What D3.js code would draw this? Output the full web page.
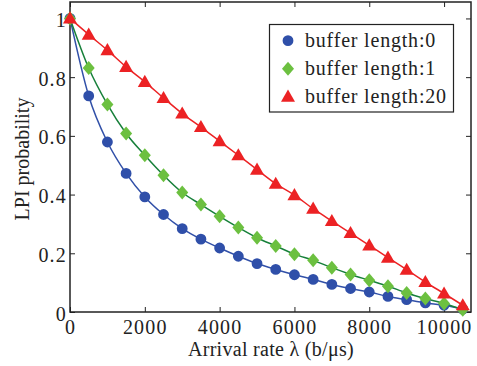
<!DOCTYPE html>
<html>
<head>
<meta charset="utf-8">
<script src="https://cdn.jsdelivr.net/npm/d3@7"></script>
<style>
  body { margin: 0; background: #fff; }
</style>
</head>
<body>
<div id="chart"></div>
<script>
// arrival rate (b/us), every 500
const rates = [0, 500, 1000, 1500, 2000, 2500, 3000, 3500, 4000, 4500, 5000,
  5500, 6000, 6500, 7000, 7500, 8000, 8500, 9000, 9500, 10000, 10500];

const buf0 = [1, 0.736, 0.579, 0.472, 0.392, 0.332, 0.284, 0.248, 0.218, 0.190, 0.165,
  0.145, 0.127, 0.111, 0.094, 0.080, 0.068, 0.053, 0.042, 0.031, 0.023, 0.010];
const buf1 = [1, 0.831, 0.707, 0.608, 0.534, 0.466, 0.407, 0.366, 0.326, 0.288, 0.253,
  0.225, 0.197, 0.176, 0.151, 0.128, 0.108, 0.088, 0.065, 0.046, 0.029, 0.008];
const buf20 = [1, 0.945, 0.892, 0.835, 0.784, 0.729, 0.676, 0.630, 0.582, 0.534, 0.485,
  0.437, 0.398, 0.352, 0.310, 0.269, 0.227, 0.185, 0.144, 0.102, 0.063, 0.023];

const xTicks = [0, 2000, 4000, 6000, 8000, 10000];
const yTicks = [0, 0.2, 0.4, 0.6, 0.8, 1];

const series = [
  { name: "buffer length:0", values: buf0, line: "#3150a8", fill: "#2f4fa9", shape: "circle" },
  { name: "buffer length:1", values: buf1, line: "#17803a", fill: "#6cc040", shape: "diamond" },
  { name: "buffer length:20", values: buf20, line: "#ec2224", fill: "#ec2224", shape: "triangle" }
];

const FONT = "'Liberation Serif', 'Times New Roman', serif";
const width = 477, height = 366;
const margin = { top: 2, right: 6, bottom: 54, left: 70 };

const x = d3.scaleLinear()
  .domain([0, 10720])
  .range([margin.left, width - margin.right]);
const y = d3.scaleLinear()
  .domain([0, 1.056])
  .range([height - margin.bottom, margin.top]);

const svg = d3.select("#chart").append("svg")
  .attr("width", width)
  .attr("height", height);

// frame ticks: inside, on all four sides
svg.append("g")
  .attr("transform", `translate(0,${y(0)})`)
  .call(d3.axisBottom(x).tickValues(xTicks).tickSize(-5).tickPadding(8).tickFormat(d3.format("d")))
  .call(g => g.select(".domain").remove());
svg.append("g")
  .attr("transform", `translate(0,${y(1.056)})`)
  .call(d3.axisTop(x).tickValues(xTicks).tickSize(-5).tickFormat(""))
  .call(g => g.select(".domain").remove());
svg.append("g")
  .attr("transform", `translate(${x(0)},0)`)
  .call(d3.axisLeft(y).tickValues(yTicks).tickSize(-5).tickPadding(3).tickFormat(d => d))
  .call(g => g.select(".domain").remove())
  .call(g => g.selectAll("text").attr("dy", "0.4em"));
svg.append("g")
  .attr("transform", `translate(${x(10720)},0)`)
  .call(d3.axisRight(y).tickValues(yTicks).tickSize(-5).tickFormat(""))
  .call(g => g.select(".domain").remove());

svg.selectAll(".tick line").attr("stroke", "#222");
svg.selectAll(".tick text")
  .attr("font-size", 20)
  .attr("letter-spacing", 1.2)
  .style("font-family", FONT)
  .attr("fill", "#222");

svg.append("rect")
  .attr("x", x(0)).attr("y", y(1.056))
  .attr("width", x(10720) - x(0)).attr("height", y(0) - y(1.056))
  .attr("fill", "none").attr("stroke", "#222").attr("stroke-width", 1.5);

const line = d3.line()
  .x((d, i) => x(rates[i]))
  .y(d => y(d))
  .curve(d3.curveMonotoneX);

const symbols = {
  circle: d3.symbol().type(d3.symbolCircle).size(92),
  diamond: d => "M0,-7L6,0L0,7L-6,0Z",
  triangle: d3.symbol().type(d3.symbolTriangle).size(85)
};
const offset = s => (s.shape === "triangle" ? 1 : 0);

const plot = svg.append("g");
series.forEach(s => {
  plot.append("path")
    .attr("d", line(s.values))
    .attr("fill", "none")
    .attr("stroke", s.line)
    .attr("stroke-width", 1.5);
});
series.forEach(s => {
  plot.append("g")
    .selectAll("path")
    .data(s.values)
    .join("path")
    .attr("transform", (d, i) => `translate(${x(rates[i])},${y(d) + offset(s)})`)
    .attr("d", symbols[s.shape])
    .attr("fill", s.fill);
});

// legend
const lg = svg.append("g");
lg.append("rect")
  .attr("x", 269.5).attr("y", 24.5)
  .attr("width", 184).attr("height", 87.5)
  .attr("fill", "#fff").attr("stroke", "#222").attr("stroke-width", 1.2);
series.forEach((s, i) => {
  const cy = 40.7 + i * 28;
  lg.append("path")
    .attr("transform", `translate(288,${cy + offset(s)})`)
    .attr("d", symbols[s.shape])
    .attr("fill", s.fill);
  lg.append("text")
    .attr("x", 305).attr("y", cy + 6.5)
    .attr("font-size", 20)
    .attr("letter-spacing", 0.8)
    .style("font-family", FONT)
    .attr("fill", "#222")
    .text(s.name);
});

// axis titles
svg.append("text")
  .attr("x", 271).attr("y", 356)
  .attr("text-anchor", "middle")
  .attr("font-size", 20)
  .attr("letter-spacing", 0.3)
  .style("font-family", FONT)
  .attr("fill", "#222")
  .text("Arrival rate λ (b/μs)");
svg.append("text")
  .attr("transform", "translate(29,159) rotate(-90)")
  .attr("text-anchor", "middle")
  .attr("font-size", 20)
  .style("font-family", FONT)
  .attr("fill", "#222")
  .text("LPI probability");
</script>
</body>
</html>
